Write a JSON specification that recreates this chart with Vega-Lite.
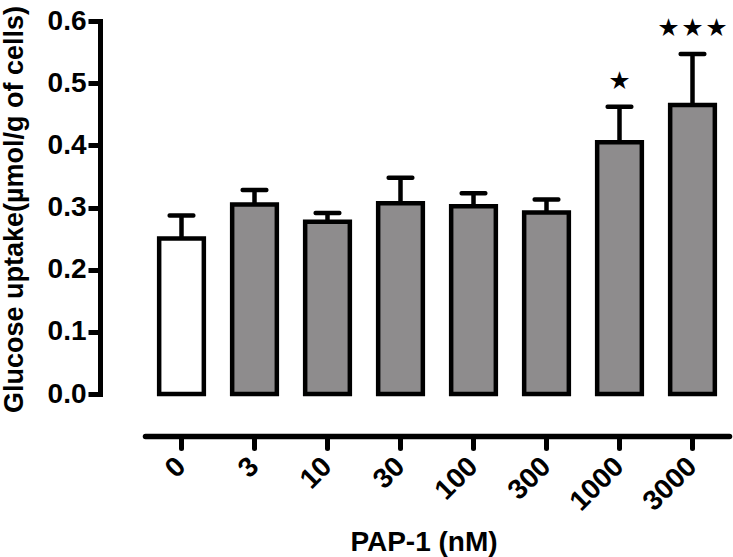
{
  "$schema": "https://vega.github.io/schema/vega-lite/v6.json",
  "autosize": "none",
  "width": 631,
  "height": 373,
  "padding": {"left": 100, "top": 21, "right": 2, "bottom": 163},
  "background": "white",
  "config": {"view": {"stroke": null}, "font": "Liberation Sans"},
  "data": {
    "values": [
      {"dose": "0", "mean": 0.250, "upper": 0.287, "group": "control", "sig": ""},
      {"dose": "3", "mean": 0.305, "upper": 0.328, "group": "treated", "sig": ""},
      {"dose": "10", "mean": 0.277, "upper": 0.291, "group": "treated", "sig": ""},
      {"dose": "30", "mean": 0.307, "upper": 0.348, "group": "treated", "sig": ""},
      {"dose": "100", "mean": 0.302, "upper": 0.323, "group": "treated", "sig": ""},
      {"dose": "300", "mean": 0.292, "upper": 0.313, "group": "treated", "sig": ""},
      {"dose": "1000", "mean": 0.405, "upper": 0.462, "group": "treated", "sig": "★"},
      {"dose": "3000", "mean": 0.465, "upper": 0.547, "group": "treated", "sig": "★\u2009★\u2009★"}
    ]
  },
  "encoding": {
    "x": {
      "field": "dose",
      "type": "ordinal",
      "sort": ["0", "3", "10", "30", "100", "300", "1000", "3000"],
      "scale": {"range": [45, 629], "paddingInner": 0.388, "paddingOuter": 0.194},
      "axis": {
        "orient": "bottom",
        "offset": 42,
        "grid": false,
        "labelAngle": -45,
        "labelAlign": "right",
        "labelBaseline": "middle",
        "labelPadding": 14,
        "labelFont": "Liberation Sans",
        "labelFontSize": 28,
        "labelFontWeight": "bold",
        "labelColor": "black",
        "labelOverlap": false,
        "labelFlush": false,
        "domainColor": "black",
        "domainWidth": 5.5,
        "domainCap": "round",
        "tickColor": "black",
        "tickWidth": 5,
        "tickSize": 12,
        "tickCap": "round",
        "title": "PAP-1 (nM)",
        "titleFont": "Liberation Sans",
        "titleFontSize": 28,
        "titleFontWeight": "bold",
        "titleColor": "black",
        "titleX": 323.5,
        "titleY": 114,
        "titleAlign": "center",
        "titleBaseline": "alphabetic"
      }
    }
  },
  "layer": [
    {
      "mark": {"type": "rule", "color": "black", "strokeWidth": 4.5},
      "encoding": {
        "y": {"field": "mean", "type": "quantitative", "title": "Glucose uptake(µmol/g of cells)", "scale": {"domain": [0, 0.6], "nice": false}},
        "y2": {"field": "upper"}
      }
    },
    {
      "mark": {"type": "tick", "color": "black", "size": 28, "thickness": 4.5, "opacity": 1, "orient": "horizontal", "cornerRadius": 2},
      "encoding": {
        "y": {"field": "upper", "type": "quantitative", "title": "Glucose uptake(µmol/g of cells)"}
      }
    },
    {
      "mark": {"type": "bar", "stroke": "black", "strokeWidth": 4.5},
      "encoding": {
        "y": {
          "field": "mean",
          "type": "quantitative",
          "title": "Glucose uptake(µmol/g of cells)",
          "scale": {"domain": [0, 0.6], "nice": false},
          "axis": {
            "values": [0, 0.1, 0.2, 0.3, 0.4, 0.5, 0.6],
            "format": ".1f",
            "grid": false,
            "labelFlush": false,
            "labelFont": "Liberation Sans",
            "labelFontSize": 28,
            "labelFontWeight": "bold",
            "labelColor": "black",
            "labelPadding": 2,
            "domainColor": "black",
            "domainWidth": 5,
            "domainCap": "square",
            "tickColor": "black",
            "tickWidth": 5,
            "tickSize": 12,
            "titleFont": "Liberation Sans",
            "titleFontSize": 27,
            "titleFontWeight": "bold",
            "titleColor": "black",
            "titleAngle": -90,
            "titleX": -78,
            "titleY": 188,
            "titleAlign": "center",
            "titleBaseline": "alphabetic"
          }
        },
        "fill": {
          "field": "group",
          "type": "nominal",
          "scale": {"domain": ["control", "treated"], "range": ["white", "#8e8c8d"]},
          "legend": null
        }
      }
    },
    {
      "mark": {"type": "text", "font": "Noto Sans CJK JP", "fontSize": 20, "baseline": "middle", "dy": -25, "color": "black"},
      "encoding": {
        "y": {"field": "upper", "type": "quantitative", "title": "Glucose uptake(µmol/g of cells)"},
        "text": {"field": "sig"}
      }
    }
  ]
}
